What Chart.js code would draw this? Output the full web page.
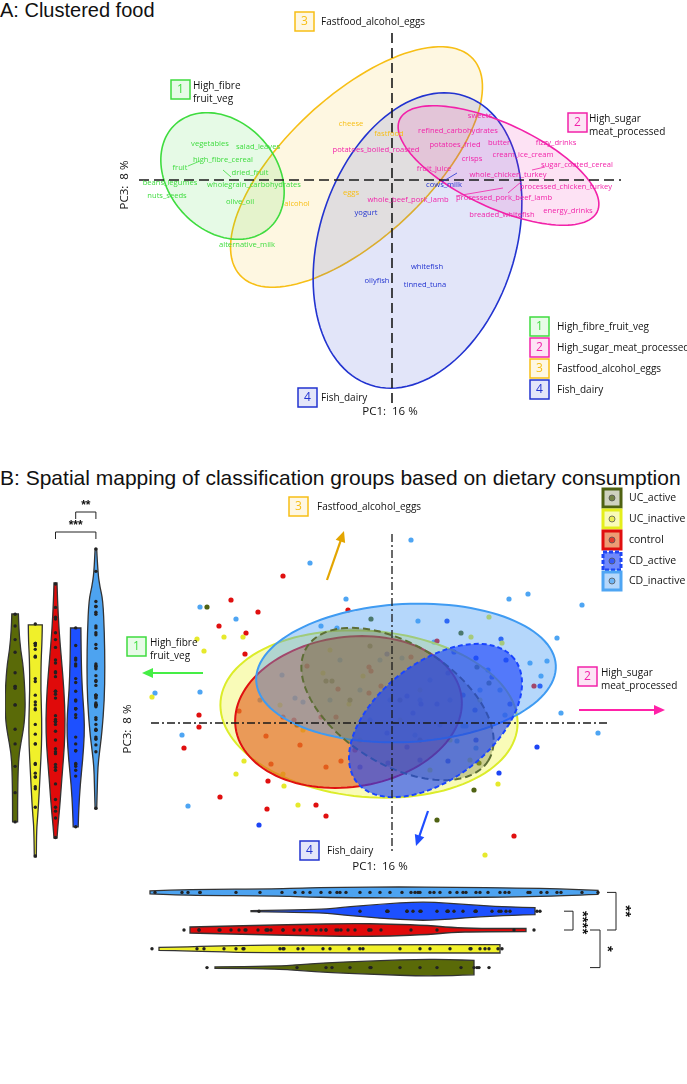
<!DOCTYPE html>
<html>
<head>
<meta charset="utf-8">
<script src="https://cdn.jsdelivr.net/npm/chart.js@4.4.1/dist/chart.umd.min.js"></script>
<style>
  body { margin: 0; background: #fff; width: 687px; height: 1084px; position: relative; overflow: hidden; }
  canvas { position: absolute; }
  .title { position: absolute; left: 0; font-family: "Liberation Sans", Arial, sans-serif; color: #111; white-space: nowrap; }
</style>
</head>
<body>
<div class="title" style="top:-1px;font-size:20px">A: Clustered food</div>
<div class="title" style="top:466px;font-size:21px">B: Spatial mapping of classification groups based on dietary consumption</div>
<canvas id="foodMap" width="687" height="470" style="left:0;top:0"></canvas>
<canvas id="groupMap" width="687" height="400" style="left:0;top:480px"></canvas>
<canvas id="pc3Violins" width="101" height="400" style="left:5px;top:480px"></canvas>
<canvas id="pc1Violins" width="687" height="94" style="left:0;top:883px"></canvas>
<script>
// ---------- Panel A: food items on PC1 / PC3 ----------
var clusterNames = ['High_fibre_fruit_veg', 'High_sugar_meat_processed', 'Fastfood_alcohol_eggs', 'Fish_dairy'];
var clusterColors = ['#3fdc3f', '#f222a9', '#f7bf16', '#2233d0'];

var foodNames = ['vegetables', 'salad_leaves', 'high_fibre_cereal', 'fruit', 'dried_fruit', 'beans_legumes',
  'wholegrain_carbohydrates', 'nuts_seeds', 'olive_oil', 'alternative_milk', 'alcohol', 'eggs', 'cheese', 'fastfood',
  'potatoes_boiled_roasted', 'sweets', 'refined_carbohydrates', 'potatoes_fried', 'butter', 'fizzy_drinks', 'crisps',
  'cream_ice_cream', 'sugar_coated_cereal', 'fruit_juice', 'whole_chicken_turkey', 'processed_chicken_turkey',
  'whole_beef_pork_lamb', 'processed_pork_beef_lamb', 'energy_drinks', 'breaded_whitefish', 'cows_milk', 'yogurt',
  'oilyfish', 'whitefish', 'tinned_tuna'];
var foodPC1 = [-1.82, -1.34, -1.69, -2.12, -1.42, -2.22, -1.38, -2.25, -1.52, -1.45, -0.95, -0.41, -0.41, -0.03,
  -0.16, 0.88, 0.66, 0.63, 1.07, 1.64, 0.80, 1.31, 1.85, 0.42, 1.16, 1.74, 0.16, 1.12, 1.76, 1.10, 0.52, -0.26,
  -0.15, 0.35, 0.33];
var foodPC3 = [0.36, 0.33, 0.20, 0.12, 0.07, -0.03, -0.05, -0.16, -0.22, -0.65, -0.24, -0.13, 0.56, 0.46,
  0.30, 0.64, 0.49, 0.35, 0.37, 0.37, 0.21, 0.25, 0.15, 0.11, 0.05, -0.07, -0.20, -0.18, -0.31, -0.35, -0.05, -0.33,
  -1.01, -0.87, -1.05];
var foodCluster = [0, 0, 0, 0, 0, 0, 0, 0, 0, 0, 2, 2, 2, 2,
  1, 1, 1, 1, 1, 1, 1, 1, 1, 1, 1, 1, 1, 1, 1, 1, 3, 3, 3, 3, 3];
// leader lines [pc1 from, pc3 from, pc1 to, pc3 to, cluster]
var foodLeaders = [[-2.04, 0.14, -1.92, 0.19, 0], [-1.69, 0.10, -1.61, 0.03, 0], [0.65, 0.07, 0.50, -0.02, 3],
  [1.11, -0.08, 0.64, -0.16, 1], [1.16, -0.13, 1.29, -0.02, 1], [1.40, 0.10, 1.53, 0.13, 1]];
// cluster ellipses [centre pc1, centre pc3, semi-axis a, semi-axis b, angle deg]
var clusterEllipses = [[-1.695, 0.04, 0.70, 0.54, -48], [1.065, 0.145, 1.09, 0.42, -25],
  [-0.355, 0.13, 1.59, 0.71, 43], [0.255, -0.605, 1.52, 0.98, 72]];

// ---------- Panel B: participants on PC1 / PC3 ----------
var groupNames = ['UC_active', 'UC_inactive', 'control', 'CD_active', 'CD_inactive'];
var groupColors = ['#4f6212', '#e6e92c', '#e00f0f', '#1d45f5', '#4ea5f3'];

var ucActive = [[-18.5, 11.6], [-2.1, 10.4], [6.9, 9.0], [-2.2, 7.7], [-6.6, 4.2], [-6.0, 4.2], [-9.5, -0.2],
  [8.2, -6.7], [8.7, -4.0], [4.5, -9.7], [9.7, 4.0], [8.5, 5.6], [0.8, 2.3], [-4.2, 2.3], [2.8, -1.7]];
var ucInactive = [[-16.8, 8.6], [-14.9, 8.6], [-19.5, 8.4], [-18.8, 7.2], [-24.0, 2.6], [-15.6, -5.1], [-14.8, -3.8],
  [-10.9, -5.1], [-10.8, -6.3], [-9.4, -8.2], [9.3, -13.2], [10.6, -6.1], [7.9, 8.6], [9.7, 10.6], [11.0, 8.0],
  [-6.9, 5.0], [-2.9, 4.7], [-4.3, 1.9], [-11.2, 1.8], [-8.9, -0.7], [-6.2, 7.3], [2.8, 3.3], [5.8, -1.7],
  [7.8, -3.7], [0.8, 0.3], [-3.2, -1.7], [3.8, -4.7], [8.8, 2.3]];
var control = [[-16.1, 12.3], [-13.4, 11.1], [-17.3, 9.7], [-14.6, 9.0], [-14.7, 6.9], [-10.9, 14.7], [-4.4, 11.3],
  [4.5, 8.2], [1.9, 6.6], [-19.3, 0.8], [-19.3, -0.4], [-20.8, -2.5], [-15.3, 1.2], [-12.6, -1.3], [-12.1, -4.1],
  [-12.4, -5.8], [-17.2, -7.4], [-12.5, -8.6], [-7.6, -8.2], [-6.6, -9.3], [-6.6, -4.4], [-5.1, -3.8], [-9.8, 0.3],
  [12.2, -11.3], [14.2, 3.7], [-2.3, 5.6], [-2.1, 5.2], [-1.1, 3.7], [-2.3, 3.0], [-5.6, 0.6], [-7.1, 0.6],
  [-10.9, 0.6], [-5.4, 3.4], [-8.5, 5.7], [-9.2, -2.2], [-3.7, -2.7]];
var cdActive = [[5.5, 10.2], [-0.5, 6.9], [10.9, 8.4], [14.8, 3.7], [14.5, -2.4], [10.7, -5.0], [-13.3, -10.2],
  [5.6, -3.8], [-3.2, -4.4], [6.2, 7.1], [8.4, 6.5], [11.4, 6.3], [10.0, 4.6], [11.8, 1.9], [5.6, 5.0], [7.1, 2.8],
  [2.9, 1.9], [4.5, 1.9], [1.5, 2.7], [2.1, 1.0], [-0.4, -4.0], [1.5, -2.4], [-0.5, -1.0], [8.4, -1.7], [2.8, -3.7],
  [8.3, 1.3]];
var cdInactive = [[1.9, 18.3], [-8.2, 16.0], [-4.6, 12.4], [11.7, 12.4], [13.6, 12.9], [-19.2, 11.6], [-15.6, 10.4],
  [-7.1, 9.7], [-5.5, 9.5], [2.6, 10.2], [4.2, 8.1], [-19.2, 3.1], [-23.7, 3.0], [19.0, 11.8], [16.5, 8.5],
  [13.8, 6.0], [15.5, 6.2], [14.9, 4.7], [16.9, 1.0], [20.6, -1.0], [-21.0, -1.2], [-20.4, -8.3], [1.0, 6.5],
  [7.1, -0.3], [7.4, -0.3], [6.5, -1.8], [8.4, -2.5], [-11.0, 4.8], [-9.7, 2.5], [-8.9, 2.1], [-1.2, 6.3],
  [3.8, 4.3], [5.8, 2.3], [8.8, 3.3], [10.8, 3.3], [2.8, 2.3], [-3.2, 3.3], [-5.2, 6.3], [-0.2, 2.3], [2.3, -1.2],
  [11.3, 0.8], [-2.2, 0.3], [4.8, -0.2], [9.6, 5.3], [-13.2, 2.3], [-6.2, 2.3]];
var groupPoints = [ucActive, ucInactive, control, cdActive, cdInactive];

// group ellipses [centre pc1, centre pc3, a, b, angle deg]
var groupEllipses = [[0.55, 1.9, 10.7, 6.0, -32], [-2.3, 0.9, 14.9, 8.3, -5], [-4.35, 1.1, 11.4, 7.5, 8],
  [4.35, 0.25, 10.0, 5.8, 38], [1.4, 5.0, 15.0, 6.9, 3]];
// direction of each food cluster [pc1 from, pc3 from, pc1 to, pc3 to]
var clusterArrows = [[-18.9, 5.0, -25.0, 5.0], [18.7, 1.3, 27.3, 1.3], [-6.5, 14.3, -4.8, 19.2], [3.6, -8.8, 2.4, -12.3]];

// violin outlines: [position, density]
var pc3DensUCActive = [[11.63, 0.33], [9.99, 0.38], [7.94, 0.55], [6.19, 0.83], [2.81, 1.03], [0.76, 0.95], [-0.57, 0.77], [-2.63, 0.40], [-4.37, 0.30], [-7.45, 0.25], [-9.70, 0.25]];
var pc3DensUCInactive = [[10.51, 0.70], [8.96, 0.68], [6.91, 0.58], [3.84, 0.55], [0.76, 0.65], [-1.81, 0.63], [-4.37, 0.50], [-7.45, 0.35], [-8.99, 0.25], [-10.52, 0.13], [-13.29, 0.10]];
var pc3DensControl = [[14.81, 0.15], [13.07, 0.20], [9.99, 0.35], [6.91, 0.60], [3.84, 0.85], [0.76, 0.97], [-1.81, 0.90], [-4.37, 0.70], [-6.42, 0.55], [-8.47, 0.40], [-10.01, 0.25], [-11.35, 0.15]];
var pc3DensCDActive = [[10.19, 0.52], [6.91, 0.55], [3.84, 0.65], [1.27, 0.85], [-0.78, 0.87], [-3.34, 0.70], [-5.91, 0.45], [-8.47, 0.30], [-10.22, 0.25]];
var pc3DensCDInactive = [[18.3, 0.08], [15.84, 0.20], [14.4, 0.40], [13.07, 0.70], [9.68, 0.85], [6.19, 0.90], [2.81, 0.85], [-0.57, 0.60], [-2.63, 0.35], [-4.06, 0.20], [-5.70, 0.15], [-8.37, 0.08]];
var pc1DensUCActive = [[-17.7, 0.07], [-11.2, 0.15], [-9.2, 0.30], [-6.2, 0.50], [-1.2, 0.70], [2.8, 0.83], [5.8, 0.80], [8.2, 0.72]];
var pc1DensUCInactive = [[-23.3, 0.15], [-20.2, 0.20], [-15.7, 0.35], [-9.2, 0.40], [0.8, 0.40], [10.8, 0.42]];
var pc1DensControl = [[-20.2, 0.30], [-14.2, 0.45], [-9.2, 0.55], [-4.2, 0.65], [-0.2, 0.60], [3.8, 0.45], [5.8, 0.25], [8.8, 0.15], [13.4, 0.15]];
var pc1DensCDActive = [[-14.1, 0.05], [-7.2, 0.15], [-5.2, 0.35], [-1.2, 0.70], [2.8, 0.95], [5.8, 0.80], [8.8, 0.55], [11.8, 0.42], [14.3, 0.35]];
var pc1DensCDInactive = [[-24.2, 0.15], [-20.2, 0.30], [-11.2, 0.35], [-9.2, 0.45], [-5.2, 0.52], [0.8, 0.55], [5.8, 0.52], [12.8, 0.45], [16.8, 0.35], [20.6, 0.20]];
var pc3Dens = [pc3DensUCActive, pc3DensUCInactive, pc3DensControl, pc3DensCDActive, pc3DensCDInactive];
var pc1Dens = [pc1DensUCActive, pc1DensUCInactive, pc1DensControl, pc1DensCDActive, pc1DensCDInactive];

var SANS = '"Open Sans", "Noto Sans", sans-serif';

function rgba(hex, a) {
  var n = parseInt(hex.slice(1), 16);
  return 'rgba(' + (n >> 16) + ',' + ((n >> 8) & 255) + ',' + (n & 255) + ',' + a + ')';
}

function ellipsePath(ctx, e, xs, ys) {
  var th = e[4] * Math.PI / 180;
  ctx.beginPath();
  for (var i = 0; i <= 120; i++) {
    var t = i / 120 * 2 * Math.PI;
    var x = e[0] + e[2] * Math.cos(t) * Math.cos(th) - e[3] * Math.sin(t) * Math.sin(th);
    var y = e[1] + e[2] * Math.cos(t) * Math.sin(th) + e[3] * Math.sin(t) * Math.cos(th);
    var px = xs.getPixelForValue(x), py = ys.getPixelForValue(y);
    if (i === 0) ctx.moveTo(px, py); else ctx.lineTo(px, py);
  }
  ctx.closePath();
}

function dashedLine(ctx, x0, y0, x1, y1, dash, w) {
  ctx.save();
  ctx.strokeStyle = '#1a1a1a';
  ctx.lineWidth = w;
  ctx.setLineDash(dash);
  ctx.beginPath();
  ctx.moveTo(x0, y0);
  ctx.lineTo(x1, y1);
  ctx.stroke();
  ctx.restore();
}

function tag(ctx, n, x, y, color, lines, tx) {
  ctx.save();
  ctx.fillStyle = rgba(color, 0.12);
  ctx.fillRect(x, y, 19, 19);
  ctx.strokeStyle = color;
  ctx.lineWidth = 1.5;
  ctx.strokeRect(x, y, 19, 19);
  ctx.fillStyle = color;
  ctx.font = '12px ' + SANS;
  ctx.textAlign = 'center';
  ctx.textBaseline = 'middle';
  ctx.fillText(n, x + 9.5, y + 10);
  ctx.fillStyle = '#111';
  ctx.font = '10px ' + SANS;
  ctx.textAlign = 'left';
  if (lines.length === 1) {
    ctx.fillText(lines[0], tx, y + 10);
  } else {
    ctx.fillText(lines[0], tx, y + 6);
    ctx.fillText(lines[1], tx, y + 19);
  }
  ctx.restore();
}

function axisText(ctx, text, x, y, rotate) {
  ctx.save();
  ctx.translate(x, y);
  if (rotate) ctx.rotate(-Math.PI / 2);
  ctx.fillStyle = '#111';
  ctx.font = '11.5px ' + SANS;
  ctx.textAlign = 'center';
  ctx.textBaseline = 'middle';
  ctx.fillText(text, 0, 0);
  ctx.restore();
}

function arrow(ctx, x0, y0, x1, y1, color) {
  var ang = Math.atan2(y1 - y0, x1 - x0), hl = 11, hw = 5;
  ctx.save();
  ctx.strokeStyle = color;
  ctx.fillStyle = color;
  ctx.lineWidth = 2.2;
  ctx.beginPath();
  ctx.moveTo(x0, y0);
  ctx.lineTo(x1 - Math.cos(ang) * hl * 0.8, y1 - Math.sin(ang) * hl * 0.8);
  ctx.stroke();
  ctx.beginPath();
  ctx.moveTo(x1, y1);
  ctx.lineTo(x1 - Math.cos(ang) * hl + Math.sin(ang) * hw, y1 - Math.sin(ang) * hl - Math.cos(ang) * hw);
  ctx.lineTo(x1 - Math.cos(ang) * hl - Math.sin(ang) * hw, y1 - Math.sin(ang) * hl + Math.cos(ang) * hw);
  ctx.closePath();
  ctx.fill();
  ctx.restore();
}

function baseOptions(xmin, xmax, ymin, ymax) {
  return {
    responsive: false,
    animation: false,
    devicePixelRatio: 1,
    events: [],
    layout: { padding: 0, autoPadding: false },
    plugins: { legend: { display: false }, tooltip: { enabled: false } },
    scales: {
      x: { type: 'linear', display: false, min: xmin, max: xmax },
      y: { type: 'linear', display: false, min: ymin, max: ymax }
    }
  };
}

// ================= Panel A =================
var foodSets = clusterNames.map(function (name, c) {
  var pts = [];
  foodNames.forEach(function (f, i) {
    if (foodCluster[i] === c) pts.push({ x: foodPC1[i], y: foodPC3[i] });
  });
  return { label: name, data: pts, pointRadius: 0, pointHoverRadius: 0, clip: false };
});

var foodPlugin = {
  id: 'foodPlugin',
  beforeDatasetsDraw: function (chart) {
    var ctx = chart.ctx, xs = chart.scales.x, ys = chart.scales.y;
    [2, 3, 0, 1].forEach(function (c) {
      ellipsePath(ctx, clusterEllipses[c], xs, ys);
      ctx.fillStyle = rgba(clusterColors[c], 0.13);
      ctx.fill();
      ctx.strokeStyle = clusterColors[c];
      ctx.lineWidth = 1.6;
      ctx.stroke();
    });
    dashedLine(ctx, xs.getPixelForValue(0), ys.getPixelForValue(1.47), xs.getPixelForValue(0), ys.getPixelForValue(-2.24), [10, 5], 1.6);
    dashedLine(ctx, xs.getPixelForValue(-2.53), ys.getPixelForValue(0), xs.getPixelForValue(2.29), ys.getPixelForValue(0), [10, 5], 1.6);
  },
  afterDatasetsDraw: function (chart) {
    var ctx = chart.ctx, xs = chart.scales.x, ys = chart.scales.y;
    ctx.save();
    foodLeaders.forEach(function (l) {
      ctx.strokeStyle = clusterColors[l[4]];
      ctx.lineWidth = 0.8;
      ctx.beginPath();
      ctx.moveTo(xs.getPixelForValue(l[0]), ys.getPixelForValue(l[1]));
      ctx.lineTo(xs.getPixelForValue(l[2]), ys.getPixelForValue(l[3]));
      ctx.stroke();
    });
    ctx.font = '7.6px ' + SANS;
    ctx.textAlign = 'center';
    ctx.textBaseline = 'middle';
    foodNames.forEach(function (f, i) {
      ctx.fillStyle = clusterColors[foodCluster[i]];
      ctx.fillText(f, xs.getPixelForValue(foodPC1[i]), ys.getPixelForValue(foodPC3[i]));
    });
    ctx.restore();

    tag(ctx, '3', 295, 12, clusterColors[2], ['Fastfood_alcohol_eggs'], 321);
    tag(ctx, '1', 171, 80, clusterColors[0], ['High_fibre', 'fruit_veg'], 193);
    tag(ctx, '2', 568, 113, clusterColors[1], ['High_sugar', 'meat_processed'], 589);
    tag(ctx, '4', 298, 388, clusterColors[3], ['Fish_dairy'], 321);
    [317, 338, 359, 380].forEach(function (y, c) {
      tag(ctx, String(c + 1), 530, y, clusterColors[c], [clusterNames[c]], 557);
    });
    axisText(ctx, 'PC3:  8 %', 125, 185, true);
    axisText(ctx, 'PC1:  16 %', 390, 412, false);
  }
};

new Chart(document.getElementById('foodMap'), {
  type: 'scatter',
  data: { datasets: foodSets },
  options: baseOptions(-3.92, 2.95, -2.90, 1.80),
  plugins: [foodPlugin]
});

// ================= Panel B scatter =================
var groupFill = ['rgba(105,115,60,0.33)', 'rgba(236,244,40,0.33)', 'rgba(226,96,30,0.62)', 'rgba(25,65,250,0.62)', 'rgba(70,155,245,0.40)'];
var groupStroke = ['#5d6e35', '#dcec2a', '#e01010', '#1a45ff', '#3f9bf2'];
var groupDash = [[7, 4], [], [], [5, 3], []];
var arrowColors = ['#45ee45', '#ff22a8', '#e3a500', '#1f4dff'];

var groupSets = groupNames.map(function (g, i) {
  return {
    label: g,
    data: groupPoints[i].map(function (p) { return { x: p[0], y: p[1] }; }),
    pointRadius: 2.6,
    pointBorderWidth: 0,
    pointBackgroundColor: groupColors[i],
    clip: false
  };
});

var groupPlugin = {
  id: 'groupPlugin',
  afterDatasetsDraw: function (chart) {
    var ctx = chart.ctx, xs = chart.scales.x, ys = chart.scales.y;
    [1, 2, 4, 0, 3].forEach(function (g) {
      ctx.save();
      ellipsePath(ctx, groupEllipses[g], xs, ys);
      ctx.fillStyle = groupFill[g];
      ctx.fill();
      ctx.strokeStyle = groupStroke[g];
      ctx.lineWidth = 2;
      ctx.setLineDash(groupDash[g]);
      ctx.stroke();
      ctx.restore();
    });
    var dd = [8, 3, 2, 3];
    dashedLine(ctx, xs.getPixelForValue(0), ys.getPixelForValue(18.9), xs.getPixelForValue(0), ys.getPixelForValue(-13.1), dd, 1.3);
    dashedLine(ctx, xs.getPixelForValue(-24.1), ys.getPixelForValue(0), xs.getPixelForValue(21.7), ys.getPixelForValue(0), dd, 1.3);

    clusterArrows.forEach(function (a, c) {
      arrow(ctx, xs.getPixelForValue(a[0]), ys.getPixelForValue(a[1]), xs.getPixelForValue(a[2]), ys.getPixelForValue(a[3]), arrowColors[c]);
    });

    tag(ctx, '3', 289, 17, clusterColors[2], ['Fastfood_alcohol_eggs'], 317);
    tag(ctx, '1', 127, 157, clusterColors[0], ['High_fibre', 'fruit_veg'], 150);
    tag(ctx, '2', 578, 187, clusterColors[1], ['High_sugar', 'meat_processed'], 601);
    tag(ctx, '4', 300, 361, clusterColors[3], ['Fish_dairy'], 327);

    // group legend
    [18, 39, 60, 81, 101].forEach(function (cy, g) {
      ctx.save();
      ctx.fillStyle = groupFill[g];
      ctx.fillRect(603, cy - 9, 18, 18);
      ctx.strokeStyle = g === 1 ? '#e4ee1c' : groupColors[g];
      ctx.lineWidth = 3;
      if (g === 3) ctx.setLineDash([4, 2]);
      ctx.strokeRect(603, cy - 9, 18, 18);
      ctx.setLineDash([]);
      ctx.beginPath();
      ctx.arc(612, cy, 3, 0, Math.PI * 2);
      ctx.fillStyle = rgba(groupColors[g], 0.7);
      ctx.fill();
      ctx.strokeStyle = '#555';
      ctx.lineWidth = 0.8;
      ctx.stroke();
      ctx.fillStyle = '#111';
      ctx.font = '10.5px ' + SANS;
      ctx.textAlign = 'left';
      ctx.textBaseline = 'middle';
      ctx.fillText(groupNames[g], 629, cy);
      ctx.restore();
    });

    axisText(ctx, 'PC3:  8 %', 128, 249, true);
    axisText(ctx, 'PC1:  16 %', 380, 387, false);
  }
};

new Chart(document.getElementById('groupMap'), {
  type: 'scatter',
  data: { datasets: groupSets },
  options: baseOptions(-39.2, 29.5, -15.7, 24.3),
  plugins: [groupPlugin]
});

// ================= Violins =================
var violinFill = ['#5a6a08', '#f0f02a', '#e00a0a', '#1d50ff', '#4da3f0'];

function sidePath(ctx, pts, first) {
  if (first) ctx.moveTo(pts[0][0], pts[0][1]); else ctx.lineTo(pts[0][0], pts[0][1]);
  for (var i = 1; i < pts.length - 1; i++) {
    var mx = (pts[i][0] + pts[i + 1][0]) / 2, my = (pts[i][1] + pts[i + 1][1]) / 2;
    ctx.quadraticCurveTo(pts[i][0], pts[i][1], mx, my);
  }
  var l = pts[pts.length - 1];
  ctx.lineTo(l[0], l[1]);
}

function drawViolin(ctx, prof, toPx, color) {
  var a = prof.map(function (p) { return toPx(p[0], p[1]); });
  var b = prof.map(function (p) { return toPx(p[0], -p[1]); }).reverse();
  ctx.save();
  ctx.beginPath();
  sidePath(ctx, a, true);
  sidePath(ctx, b, false);
  ctx.closePath();
  ctx.fillStyle = color;
  ctx.fill();
  ctx.strokeStyle = '#333';
  ctx.lineWidth = 1.3;
  ctx.stroke();
  ctx.restore();
}

function bracket(ctx, pts, label, tx, ty, rotate, size) {
  ctx.save();
  ctx.strokeStyle = '#222';
  ctx.lineWidth = 1;
  ctx.beginPath();
  ctx.moveTo(pts[0][0], pts[0][1]);
  for (var i = 1; i < pts.length; i++) ctx.lineTo(pts[i][0], pts[i][1]);
  ctx.stroke();
  ctx.translate(tx, ty);
  if (rotate) ctx.rotate(Math.PI / 2);
  ctx.fillStyle = '#111';
  ctx.font = 'bold ' + size + 'px "Liberation Sans", Arial, sans-serif';
  ctx.textAlign = 'center';
  ctx.textBaseline = 'middle';
  ctx.fillText(label, 0, 0);
  ctx.restore();
}

var dotStyle = { pointRadius: 1.7, pointHoverRadius: 0, pointBorderWidth: 0, pointBackgroundColor: '#222', clip: false };

var pc3Sets = groupNames.map(function (g, i) {
  return Object.assign({ label: g, data: groupPoints[i].map(function (p) { return { x: i, y: p[1] }; }) }, dotStyle);
});

new Chart(document.getElementById('pc3Violins'), {
  type: 'scatter',
  data: { datasets: pc3Sets },
  options: baseOptions(-0.5, 4.5, -15.66, 25.37),
  plugins: [{
    id: 'pc3Violin',
    beforeDatasetsDraw: function (chart) {
      var ctx = chart.ctx, xs = chart.scales.x, ys = chart.scales.y;
      pc3Dens.forEach(function (prof, g) {
        drawViolin(ctx, prof, function (v, d) {
          return [xs.getPixelForValue(g) + d * 10, ys.getPixelForValue(v)];
        }, violinFill[g]);
      });
      var x2 = xs.getPixelForValue(2), x3 = xs.getPixelForValue(3), x4 = xs.getPixelForValue(4);
      bracket(ctx, [[x3, 39], [x3, 32], [x4, 32], [x4, 39]], '**', (x3 + x4) / 2, 26, false, 12);
      bracket(ctx, [[x2, 59], [x2, 52], [x4, 52], [x4, 59]], '***', (x2 + x4) / 2, 46, false, 12);
    }
  }]
});

var pc1Sets = groupNames.map(function (g, i) {
  return Object.assign({ label: g, data: groupPoints[i].map(function (p) { return { x: p[0], y: i }; }) }, dotStyle);
});

new Chart(document.getElementById('pc1Violins'), {
  type: 'scatter',
  data: { datasets: pc1Sets },
  options: baseOptions(-39.2, 29.5, -0.5, 4.5),
  plugins: [{
    id: 'pc1Violin',
    beforeDatasetsDraw: function (chart) {
      var ctx = chart.ctx, xs = chart.scales.x, ys = chart.scales.y;
      pc1Dens.forEach(function (prof, g) {
        drawViolin(ctx, prof, function (v, d) {
          return [xs.getPixelForValue(v), ys.getPixelForValue(g) - d * 10];
        }, violinFill[g]);
      });
      var y0 = ys.getPixelForValue(0), y2 = ys.getPixelForValue(2), y3 = ys.getPixelForValue(3), y4 = ys.getPixelForValue(4);
      bracket(ctx, [[607, y4], [616, y4], [616, y2], [607, y2]], '**', 625, (y4 + y2) / 2, true, 15);
      bracket(ctx, [[564, y3], [573, y3], [573, y2], [564, y2]], '****', 582, (y3 + y2) / 2 + 2, true, 15);
      bracket(ctx, [[590, y2], [600, y2], [600, y0], [590, y0]], '*', 607, (y2 + y0) / 2, true, 15);
    }
  }]
});
</script>
</body>
</html>
